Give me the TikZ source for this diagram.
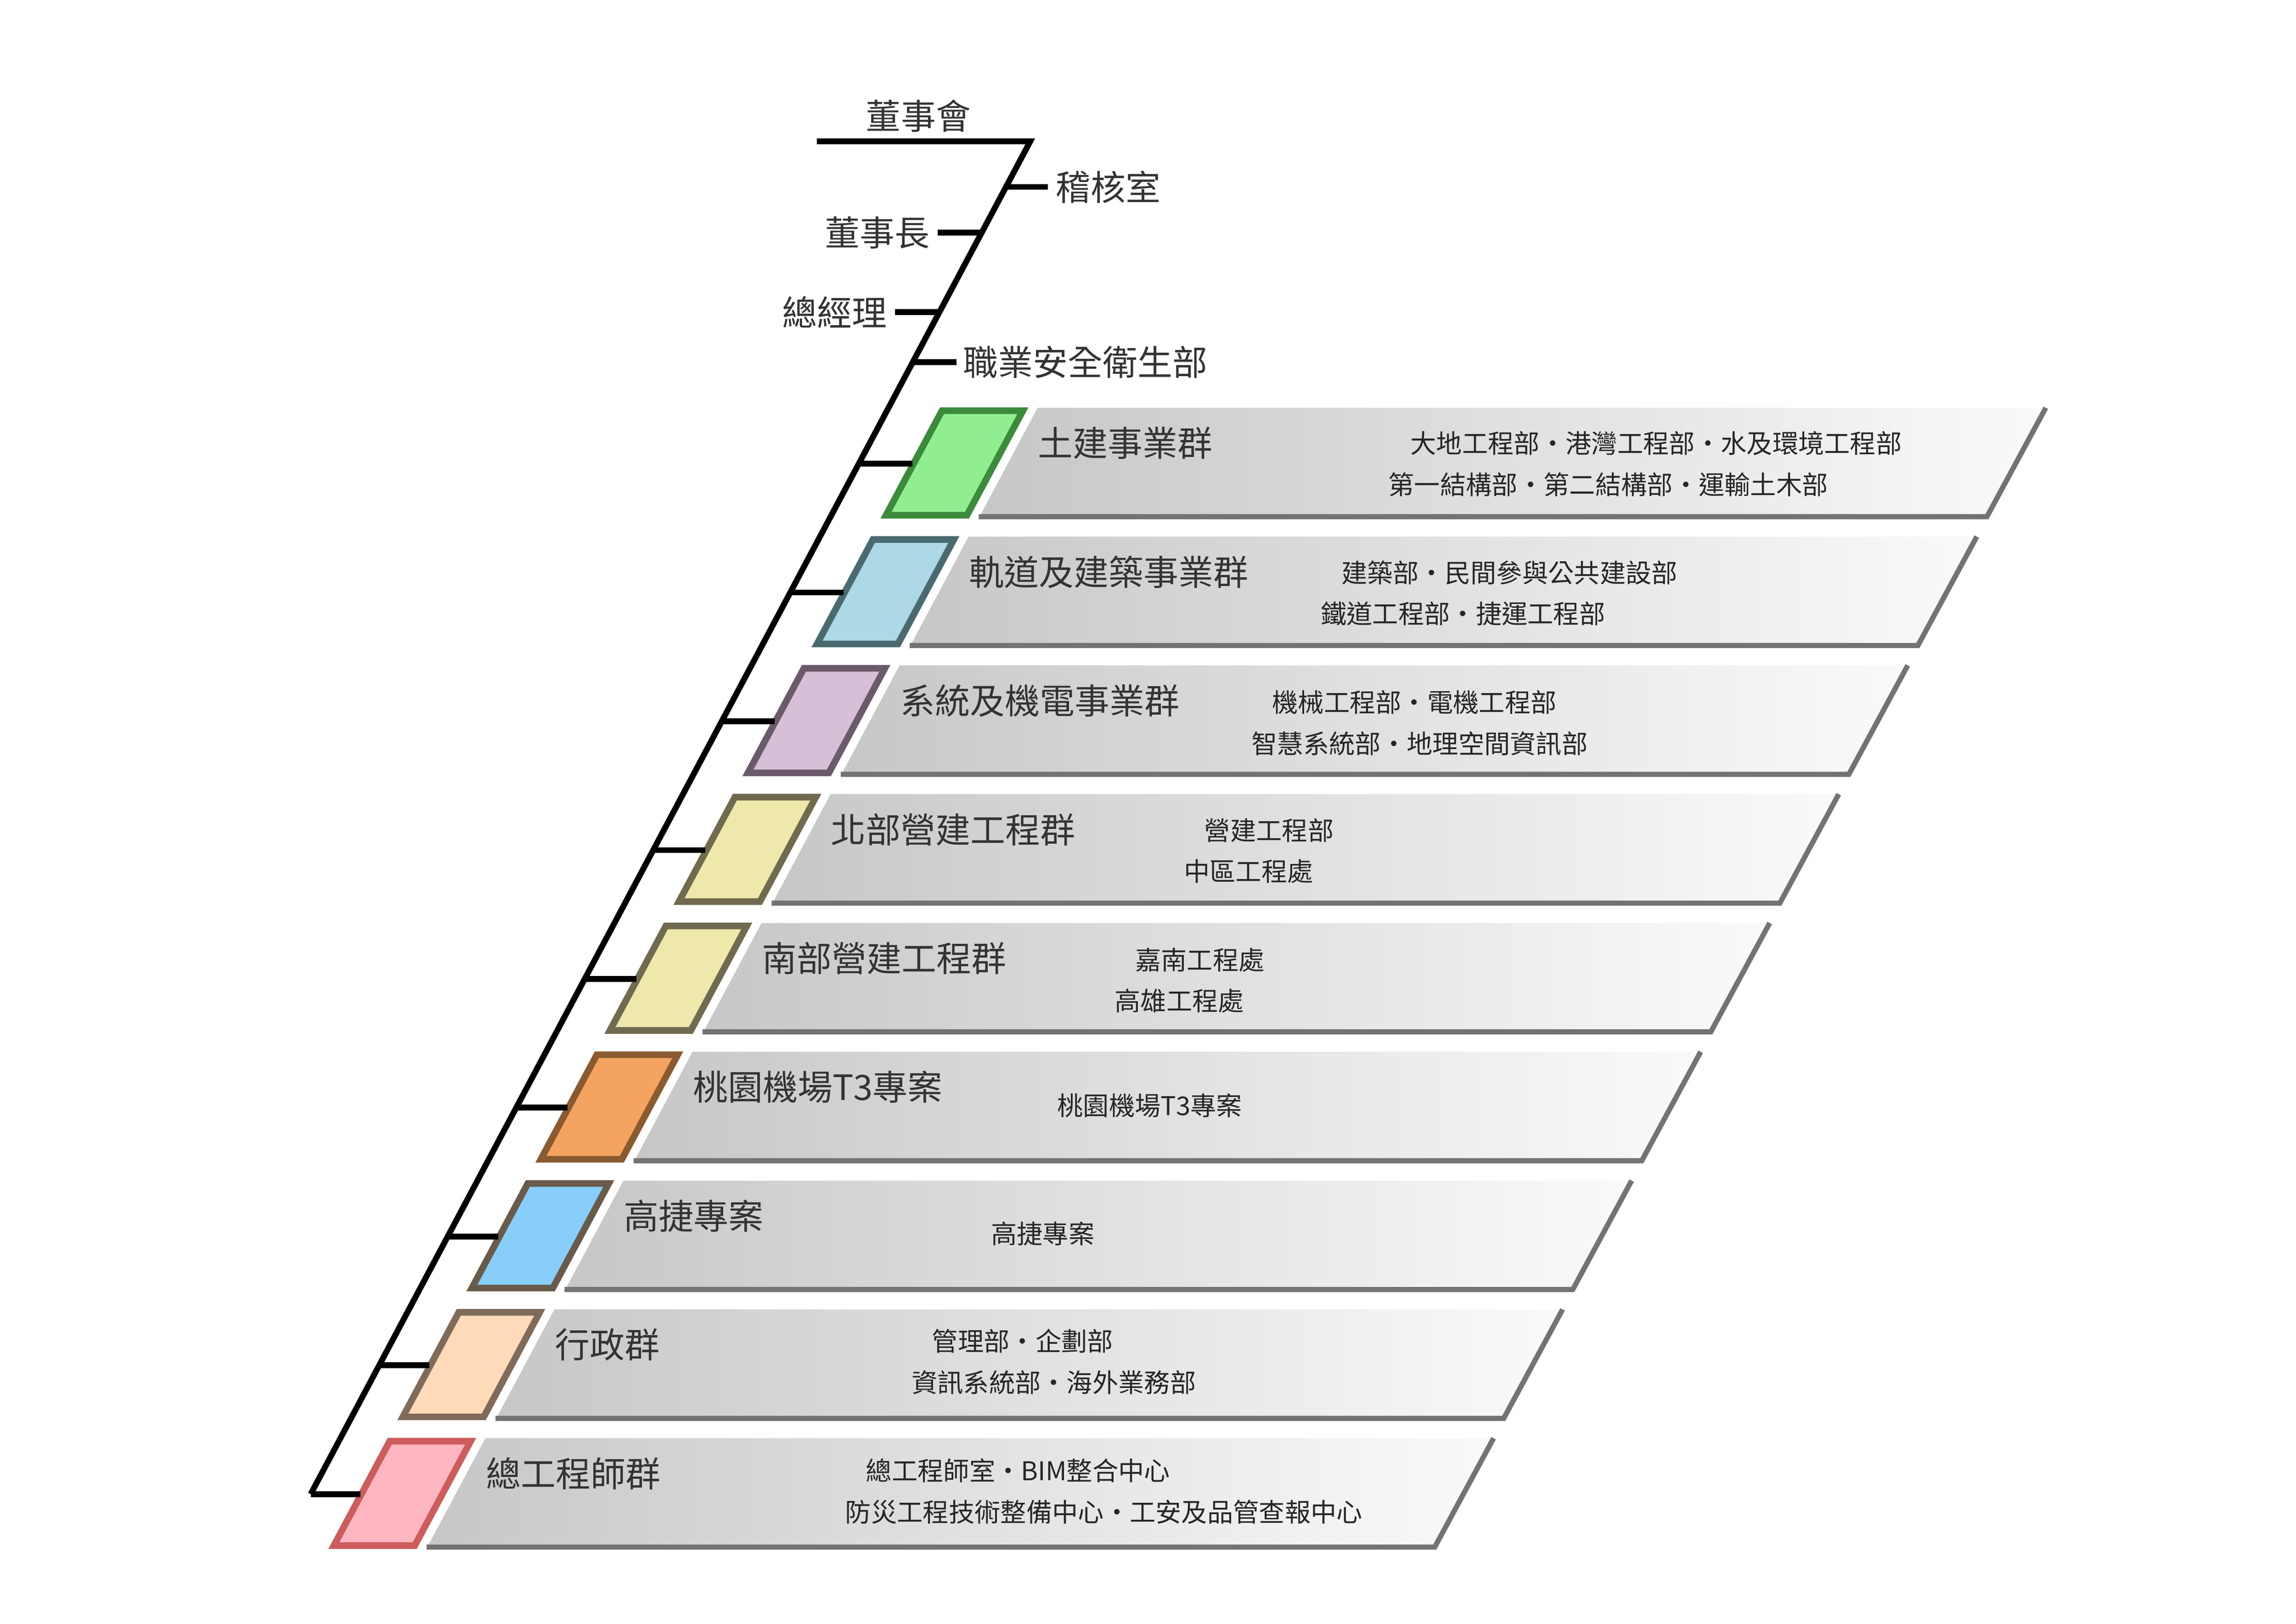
\documentclass[tikz,border=0pt]{standalone}
\usepackage{fontspec}
\setmainfont{Noto Sans CJK TC}
\newfontfamily\cjk{Noto Sans CJK TC}
\begin{document}
\begin{tikzpicture}[x=0.02cm,y=-0.02cm]
\useasboundingbox (0,0) rectangle (1560,1103);
\tikzset{
  ttl/.style={anchor=west,inner sep=0pt,text=black!80,font=\cjk\fontsize{13.5}{14}\selectfont},
  sub/.style={anchor=west,inner sep=0pt,text=black!85,font=\cjk\fontsize{10}{11}\selectfont},
  wire/.style={line width=0.08cm,black},
}
\def\sx#1{700-0.532*(#1-96)}
% spine
\coordinate (s0) at (555,96);
\coordinate (s1) at (700,96);
\coordinate (s2) at ({\sx{1015}},1015);
\draw[wire,line join=miter] (s0) -- (s1) -- (s2);
% top labels
\node[ttl,anchor=south] (board) at (624,90) {董事會};
\coordinate (a1) at ({\sx{127}},127); \coordinate (a2) at (712,127);
\draw[wire] (a1) -- (a2);
\node[ttl] (audit) at (717,127) {稽核室};
\coordinate (b1) at ({\sx{158}},158); \coordinate (b2) at (637,158);
\draw[wire] (b1) -- (b2);
\node[ttl,anchor=east] (chair) at (632,158) {董事長};
\coordinate (c1) at ({\sx{212}},212); \coordinate (c2) at (608,212);
\draw[wire] (c1) -- (c2);
\node[ttl,anchor=east] (gm) at (603,212) {總經理};
\coordinate (d1) at ({\sx{246}},246); \coordinate (d2) at (650,246);
\draw[wire] (d1) -- (d2);
\node[ttl] (safety) at (654,246) {職業安全衛生部};
% bands
\foreach \i/\fc/\bc/\tt in {
 1/90EE90/3C8A3C/土建事業群,
 2/ADD8E6/4A6A70/軌道及建築事業群,
 3/D8BFD8/6A5A6A/系統及機電事業群,
 4/EEE8AA/6F6A50/北部營建工程群,
 5/EEE8AA/6F6A50/南部營建工程群,
 6/F4A460/8A5A30/桃園機場T3專案,
 7/87CEFA/6A5A4A/高捷專案,
 8/FFDAB9/806A5A/行政群,
 9/FFB6C1/CD5C5C/總工程師群}{
  \pgfmathsetmacro\xo{640-46.9*(\i-1)}
  \pgfmathsetmacro\yt{277+87.5*(\i-1)}
  \pgfmathsetmacro\ym{\yt+38}
  \definecolor{fc\i}{HTML}{\fc}\definecolor{bc\i}{HTML}{\bc}
  % gray band
  \shade[left color=black!22,right color=black!2]
     (\xo+65,\yt) -- (\xo+750,\yt) -- (\xo+710,\yt+75) -- (\xo+25,\yt+75) -- cycle;
  \draw[black!55,line width=0.07cm] (\xo+25,\yt+74) -- (\xo+710,\yt+74) -- (\xo+750,\yt);
  % colour box
  \draw[fill=fc\i,draw=bc\i,line width=0.09cm,line join=miter]
     (\xo,\yt+2) -- (\xo+55,\yt+2) -- (\xo+17,\yt+73) -- (\xo-38,\yt+73) -- cycle;
  \coordinate (t\i) at ({\sx{\ym}},\ym);
  \coordinate (g\i) at (\xo-20,\ym);
  \draw[wire] (t\i) -- (g\i);
  \node[ttl] (title\i) at (\xo+65,\yt+24) {\tt};
}
\node[sub] (s1a) at (958,301) {大地工程部・港灣工程部・水及環境工程部};
\node[sub] (s1b) at (943,329) {第一結構部・第二結構部・運輸土木部};
\node[sub] (s2a) at (911,389) {建築部・民間參與公共建設部};
\node[sub] (s2b) at (897,417) {鐵道工程部・捷運工程部};
\node[sub] (s3a) at (864,477) {機械工程部・電機工程部};
\node[sub] (s3b) at (850,505) {智慧系統部・地理空間資訊部};
\node[sub] (s4a) at (818,564) {營建工程部};
\node[sub] (s4b) at (804,592) {中區工程處};
\node[sub] (s5a) at (771,652) {嘉南工程處};
\node[sub] (s5b) at (757,680) {高雄工程處};
\node[sub] (s6a) at (718,751) {桃園機場T3專案};
\node[sub] (s7a) at (673,838) {高捷專案};
\node[sub] (s8a) at (633,911) {管理部・企劃部};
\node[sub] (s8b) at (619,939) {資訊系統部・海外業務部};
\node[sub] (s9a) at (588,999) {總工程師室・BIM整合中心};
\node[sub] (s9b) at (574,1027) {防災工程技術整備中心・工安及品管查報中心};
\end{tikzpicture}
\end{document}
